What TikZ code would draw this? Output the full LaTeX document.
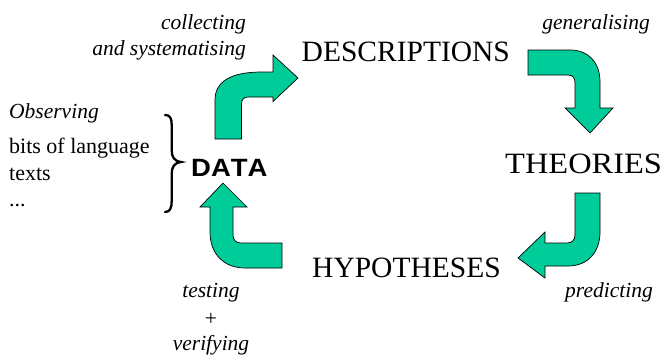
\documentclass[tikz,border=0pt]{standalone}
\usepackage{fontspec}
\setmainfont{Liberation Serif}
\newfontfamily\headsans[Kerning=Off]{Liberation Sans}
\definecolor{arrowgreen}{RGB}{0,204,153}
\begin{document}
\begin{tikzpicture}[x=1pt,y=-1pt,
  bent/.style={fill=arrowgreen,draw=black,line width=0.7pt,line join=miter},
  stage/.style={inner sep=0pt,anchor=base west,font=\fontsize{29.5}{30}\selectfont},
  verb/.style={inner sep=0pt,font=\fontsize{21.5}{24}\selectfont\itshape},
  item/.style={inner sep=0pt,anchor=base west,font=\fontsize{22}{24}\selectfont}]
\useasboundingbox (0,0) rectangle (666,356);

% the four stages of the cycle
\node[stage] (desc) at (301.5,61) {DESCRIPTIONS};
\node[stage] (theo) at (505,173) {\scalebox{1.1}[1]{THEORIES}};
\node[stage] (hyp) at (312,277) {HYPOTHESES};
\node[inner sep=0pt,anchor=base west,font=\headsans\bfseries\fontsize{25}{26}\selectfont] (data) at (191,176) {\scalebox{1.1}[1]{DATA}};

% activities between the stages
\node[verb,anchor=base east] (collect) at (246,29) {collecting};
\node[verb,anchor=base east] (syst) at (246,55) {and systematising};
\node[verb,anchor=base east] (gen) at (650,29) {generalising};
\node[verb,anchor=base east] (pred) at (653,297) {predicting};
\node[verb,anchor=base] (test) at (211,297) {testing};
\node[inner sep=0pt,anchor=base,font=\fontsize{21.5}{24}\selectfont] (plus) at (211,325) {+};
\node[verb,anchor=base] (verif) at (211,350) {verifying};

% what is observed
\node[verb,anchor=base west] (obs) at (9,118) {Observing};
\node[item] (bits) at (9,153) {bits of language};
\node[item] (texts) at (9,180) {texts};
\node[item] (dots) at (9,206) {...};

% brace gathering the observed material into DATA
\draw[line width=2.3pt,line cap=round]
  (165,115) .. controls (170,115) and (171.7,118) .. (171.7,125)
  -- (171.7,150) .. controls (171.7,157) and (174,161) .. (181,162)
  .. controls (174,163) and (171.7,167) .. (171.7,174)
  -- (171.7,201) .. controls (171.7,208) and (170,212) .. (165,212);

% DATA -> DESCRIPTIONS
\draw[bent] (215,139) -- (215,100) .. controls (215,82) and (230,72) .. (262,72)
  -- (273,72) -- (273,55) -- (298,78) -- (273,101.5) -- (273,97) -- (248,97)
  .. controls (244,97) and (241.5,99.5) .. (241.5,104) -- (241.5,139) -- cycle;

% DESCRIPTIONS -> THEORIES
\draw[bent] (528,50) -- (570,50) .. controls (588,50) and (600,62) .. (600,82)
  -- (600,108) -- (613,108) -- (590,133) -- (565,108) -- (575,108) -- (575,83)
  .. controls (575,78) and (573,75) .. (568,75) -- (528,75) -- cycle;

% THEORIES -> HYPOTHESES
\draw[bent] (575,193) -- (600,193) -- (600,232) .. controls (600,252) and (588,266) .. (568,266)
  -- (545,266) -- (545,278) -- (518,258) -- (545,232) -- (545,243) -- (567,243)
  .. controls (572,243) and (575,240) .. (575,235) -- cycle;

% HYPOTHESES -> DATA
\draw[bent] (282,243) -- (282,268) -- (245,268) .. controls (224,268) and (210,254) .. (210,232)
  -- (210,207) -- (200,207) -- (223,183) -- (247,207) -- (233,207) -- (233,235)
  .. controls (233,240) and (236,243) .. (241,243) -- cycle;
\end{tikzpicture}
\end{document}
